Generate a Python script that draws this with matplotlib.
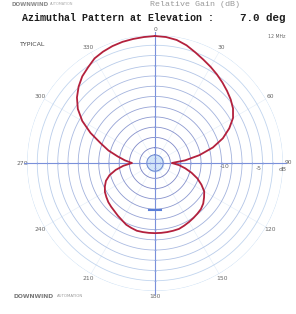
import numpy as np
import matplotlib
matplotlib.use("Agg")
import matplotlib.pyplot as plt
from matplotlib.colors import to_rgb

# azimuth (deg, clockwise from north) and relative gain (dB)
azimuth = np.arange(0, 361, 5)
gain_db = [-0.2, -0.3, -0.6, -1.2, -2.0, -2.7, -3.3, -3.9, -4.5, -5.1,
           -5.7, -6.4, -7.4, -9.0, -10.9, -13.3, -16.2, -19.1, -21.7, -20.3,
           -19.0, -17.6, -16.2, -15.0, -13.9, -13.3, -12.7, -12.3, -12.1, -11.9,
           -11.7, -11.5, -11.3, -11.3, -11.3, -11.3, -11.3, -11.3, -11.3, -11.3,
           -11.5, -11.7, -12.1, -12.4, -12.7, -12.9, -13.1, -13.4, -13.7, -14.2,
           -14.8, -15.8, -17.2, -18.8, -20.5, -19.1, -17.6, -15.6, -13.7, -11.1,
           -8.6, -6.6, -5.1, -3.9, -2.9, -2.2, -1.4, -1.0, -0.7, -0.5,
           -0.4, -0.3, -0.2]

ring_levels = np.arange(-24, 1, 2)
az_labels = [0, 30, 60, 90, 120, 150, 180, 210, 240, 270, 300, 330]
db_labels = ["-10", "-5", "dB"]
db_label_pos = [-11.3, -4.8, 0.0]

W, H = 296, 314
fig = plt.figure(figsize=(W / 100, H / 100), dpi=100)
fig.patch.set_facecolor("white")

cx, cy, R = 155, 163, 128


def fx(x):
    return x / W


def fy(y):
    return 1 - y / H


ax = fig.add_axes([fx(cx - R), fy(cy + R), 2 * R / W, 2 * R / H], projection="polar")
ax.set_theta_zero_location("N")
ax.set_theta_direction(-1)
ax.set_rlim(-25, 0)
ax.set_xticks([])
ax.set_yticks([])
ax.grid(False)
ax.spines["polar"].set_visible(False)
ax.patch.set_alpha(0)

th = np.linspace(0, 2 * np.pi, 361)

# rings: darker toward the middle, light blue outside
inner = np.array(to_rgb("#7078bf"))
outer = np.array(to_rgb("#c8ddf3"))
for lv in ring_levels:
    f = (lv - ring_levels[0]) / (ring_levels[-1] - ring_levels[0])
    c = inner * (1 - f) + outer * f
    ax.plot(th, np.full_like(th, lv), color=c, lw=0.6, zorder=2)

# faint spokes
for a in range(0, 360, 30):
    ax.plot([np.radians(a)] * 2, [-25, 0], color="#e3edf8", lw=0.4, zorder=1)

# centre disc
ax.fill_between(th, -25, -23.4, color="#d3e5f8", zorder=3)
ax.plot(th, np.full_like(th, -23.4), color="#6a86cf", lw=0.7, zorder=3)

# main axes
for a in (0, 90, 180, 270):
    ax.plot([np.radians(a)] * 2, [-25, 0.6], color="#7a90da", lw=0.8,
            zorder=4, clip_on=False)
for a, m in ((0, "_"), (180, "_"), (90, "|"), (270, "|")):
    ax.plot([np.radians(a)] * len(ring_levels), ring_levels, ls="none",
            marker=m, ms=2, mew=0.5, color="#8aa0e0", zorder=4)

# blue marker below centre
ax.plot([0.475, 0.525], [0.316, 0.316], transform=ax.transAxes,
        color="#5b7fd8", lw=1.5, zorder=5)

# pattern
ax.plot(np.radians(azimuth), gain_db, color="#b3213d", lw=1.3, zorder=6)

# azimuth labels
for a in az_labels:
    ax.text(np.radians(a), 1.0, str(a), fontsize=4.3, color="#666666",
            ha="center", va="center", clip_on=False)

# dB labels along the 90 degree axis
for lab, v in zip(db_labels, db_label_pos):
    ax.text(np.radians(93), v, lab, fontsize=4.3, color="#666666",
            ha="center", va="center", clip_on=False)

# header texts
fig.text(fx(195), fy(4), "Relative Gain (dB)", fontsize=6,
         family="Liberation Mono", color="#999999", ha="center", va="center")
fig.text(fx(12), fy(4), "DOWNWIND", fontsize=4, color="#888888",
         fontweight="bold", ha="left", va="center")
fig.text(fx(50), fy(4), "AUTOMATION", fontsize=2.5, color="#aaaaaa",
         ha="left", va="center")
fig.text(fx(22), fy(18), "Azimuthal Pattern at Elevation :", fontsize=7.2,
         family="Liberation Mono", fontweight="bold", color="#1e1e1e",
         ha="left", va="center")
fig.text(fx(286), fy(18), "7.0 deg", fontsize=7.8,
         family="Liberation Mono", fontweight="bold", color="#1e1e1e",
         ha="right", va="center")
fig.text(fx(285), fy(37), "12 MHz", fontsize=3.3, color="#666666",
         ha="right", va="center")
fig.text(fx(20), fy(45), "TYPICAL", fontsize=4.5, color="#444444",
         ha="left", va="center")
fig.text(fx(13), fy(296), "DOWNWIND", fontsize=4.3, color="#777777",
         fontweight="bold", ha="left", va="center")
fig.text(fx(57), fy(296), "AUTOMATION", fontsize=2.8, color="#999999",
         ha="left", va="center")

fig.savefig("out.png", dpi=100, facecolor="white")
